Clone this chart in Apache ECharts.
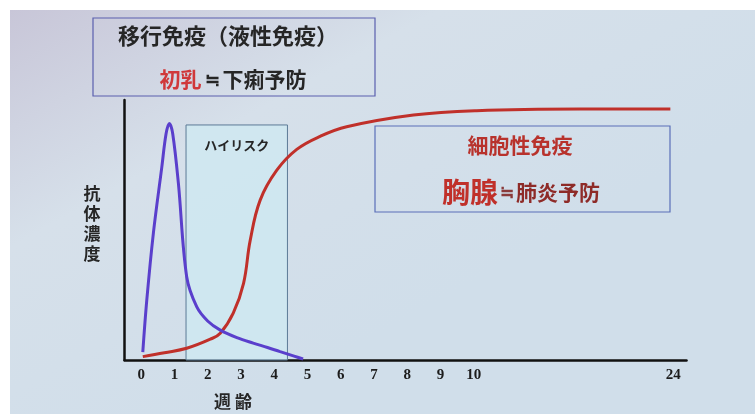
<!DOCTYPE html>
<html>
<head>
<meta charset="utf-8">
<script src="https://cdn.jsdelivr.net/npm/echarts@6/dist/echarts.min.js"></script>
<style>
  html, body { margin: 0; padding: 0; background: #ffffff; }
  #chart { width: 755px; height: 414px; }
</style>
</head>
<body>
<div id="chart"></div>
<script>
// Week values on the horizontal axis (ticks), and the week range of the high-risk window
const weekTicks = [0, 1, 2, 3, 4, 5, 6, 7, 8, 9, 10, 24];
const riskWindow = [1.35, 4.4];

// Passive (maternal) antibody level: [week, level]
const passiveImmunity = [
  [0.05, 3], [0.17, 23], [0.37, 49], [0.62, 74], [0.75, 87], [0.85, 91],
  [0.95, 87], [1.12, 68], [1.37, 32], [1.67, 20.5], [2.0, 15], [2.38, 11.5],
  [2.9, 8.5], [3.37, 6.5], [3.8, 4.8], [4.18, 3.2], [4.6, 1.5], [4.87, 0.4]
];

// Cell-mediated immunity level: [week, level]
const cellularImmunity = [
  [0.05, 1.3], [0.7, 2.8], [1.37, 4.5], [2.08, 8], [2.38, 10.3], [2.77, 18],
  [3.08, 29.5], [3.28, 46], [3.58, 61.5], [4.08, 73], [4.68, 81], [5.38, 86],
  [6.18, 89.7], [8.19, 94.2], [10.2, 95.9], [17.5, 96.5], [23.8, 96.5]
];

// Weeks 0-10 are drawn at full scale; 10-24 are compressed into 6 units.
function weekToAxis(w) {
  return w <= 10 ? w : 10 + (w - 10) * 6 / 14;
}
const toPoints = arr => arr.map(p => [weekToAxis(p[0]), p[1]]);
const tickPositions = weekTicks.map(weekToAxis);

const CJK = '"Noto Sans CJK JP", "Noto Sans CJK SC", sans-serif';
const RED = '#c0302a';
const DARK = '#262626';

const chart = echarts.init(document.getElementById('chart'));

chart.setOption({
  animation: false,
  backgroundColor: '#ffffff',
  grid: { left: 124.5, right: 68.5, top: 100, bottom: 54 },
  xAxis: {
    type: 'value',
    min: -0.5,
    max: 16.4,
    splitLine: { show: false },
    axisTick: { show: false },
    axisLine: { onZero: false, lineStyle: { color: '#111', width: 2.5 } },
    axisLabel: {
      customValues: tickPositions,
      margin: 8,
      fontFamily: '"Liberation Serif", serif',
      fontWeight: 'bold',
      fontSize: 15,
      color: '#1c1c1c',
      formatter: v => {
        const i = tickPositions.findIndex(t => Math.abs(t - v) < 1e-6);
        return i >= 0 ? String(weekTicks[i]) : '';
      }
    }
  },
  yAxis: {
    type: 'value',
    min: 0,
    max: 100,
    splitLine: { show: false },
    axisTick: { show: false },
    axisLabel: { show: false },
    axisLine: { show: true, onZero: false, lineStyle: { color: '#111', width: 2.5 } }
  },
  graphic: [
    // slide background
    {
      type: 'rect', z: -10, silent: true,
      shape: { x: 10, y: 10, width: 745, height: 404 },
      style: {
        fill: {
          type: 'linear', x: 0, y: 0, x2: 0.3, y2: 1,
          colorStops: [
            { offset: 0, color: '#c8c6d8' },
            { offset: 0.45, color: '#d6e0ea' },
            { offset: 1, color: '#d0deea' }
          ]
        }
      }
    },
    // upper-left caption box
    {
      type: 'rect', z: 5,
      shape: { x: 93, y: 18, width: 282, height: 78 },
      style: { fill: 'rgba(0,0,0,0)', stroke: '#5a5fae', lineWidth: 1.2 }
    },
    {
      type: 'text', z: 6, x: 228, y: 36,
      style: {
        text: '移行免疫（液性免疫）', fontFamily: CJK, fontSize: 22, fontWeight: 600,
        fill: DARK, align: 'center', verticalAlign: 'middle'
      }
    },
    {
      type: 'text', z: 6, x: 233, y: 79,
      style: {
        text: '{r|初乳}{s|≒}{k|下痢予防}',
        align: 'center', verticalAlign: 'middle',
        rich: {
          r: { fontFamily: CJK, fontSize: 21, fontWeight: 600, fill: '#d0383a' },
          s: { fontFamily: CJK, fontSize: 18, fontWeight: 600, fill: DARK, padding: [0, 3, 0, 3] },
          k: { fontFamily: CJK, fontSize: 21, fontWeight: 600, fill: DARK }
        }
      }
    },
    // right caption box
    {
      type: 'rect', z: 5,
      shape: { x: 375, y: 126, width: 295, height: 86 },
      style: { fill: 'rgba(0,0,0,0)', stroke: '#5a6fb8', lineWidth: 1.2 }
    },
    {
      type: 'text', z: 6, x: 520, y: 145,
      style: {
        text: '細胞性免疫', fontFamily: CJK, fontSize: 21, fontWeight: 600,
        fill: '#b8322c', align: 'center', verticalAlign: 'middle'
      }
    },
    {
      type: 'text', z: 6, x: 521, y: 192,
      style: {
        text: '{a|胸腺}{s|≒}{b|肺炎予防}',
        align: 'center', verticalAlign: 'middle',
        rich: {
          a: { fontFamily: CJK, fontSize: 28, fontWeight: 600, fill: '#c0302a' },
          s: { fontFamily: CJK, fontSize: 17, fontWeight: 600, fill: '#8a3a3a', padding: [0, 2, 0, 2] },
          b: { fontFamily: CJK, fontSize: 21, fontWeight: 600, fill: '#8e2b28' }
        }
      }
    },
    // axis titles
    {
      type: 'text', z: 6, x: 92, y: 224,
      style: {
        text: '抗\n体\n濃\n度', fontFamily: CJK, fontSize: 17, fontWeight: 'bold',
        lineHeight: 20, fill: DARK, align: 'center', verticalAlign: 'middle'
      }
    },
    {
      type: 'text', z: 6, x: 233, y: 402,
      style: {
        text: '週 齢', fontFamily: CJK, fontSize: 17, fontWeight: 'bold',
        fill: DARK, align: 'center', verticalAlign: 'middle'
      }
    }
  ],
  series: [
    {
      name: '細胞性免疫',
      type: 'line',
      data: toPoints(cellularImmunity),
      smooth: 0.4,
      symbol: 'none',
      z: 3,
      lineStyle: { color: RED, width: 3 }
    },
    {
      name: '移行免疫',
      type: 'line',
      data: toPoints(passiveImmunity),
      smooth: 0.35,
      symbol: 'none',
      z: 4,
      lineStyle: { color: '#5a3fcc', width: 3 },
      markArea: {
        silent: true,
        itemStyle: { color: 'rgba(205,234,242,0.75)', borderColor: '#5c7a96', borderWidth: 1 },
        label: {
          show: true, position: 'insideTop', distance: 14,
          fontFamily: CJK, fontSize: 13, fontWeight: 'bold', color: DARK
        },
        data: [[
          { name: 'ハイリスク', xAxis: weekToAxis(riskWindow[0]), yAxis: 90.4 },
          { xAxis: weekToAxis(riskWindow[1]), yAxis: 0 }
        ]]
      }
    }
  ]
});
</script>
</body>
</html>
